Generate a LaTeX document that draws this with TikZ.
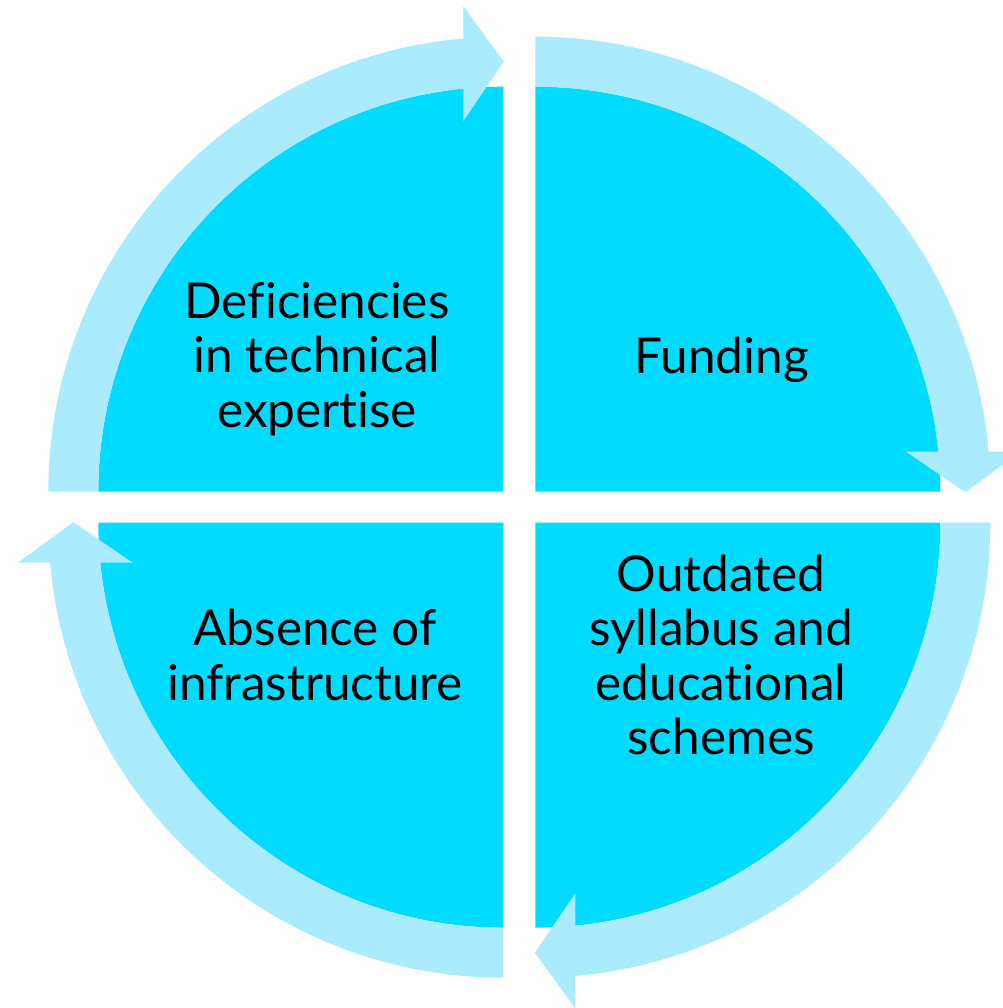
\documentclass[tikz,border=0pt]{standalone}
\usepackage{fontspec}
\setmainfont[Ligatures={NoCommon,NoDiscretionary,NoRare,NoContextual}]{Lato}
\definecolor{segfill}{RGB}{0,219,255}
\definecolor{ringfill}{RGB}{171,235,255}
\begin{document}
\begin{tikzpicture}[x=1pt,y=1pt,
  seg/.style={fill=segfill,draw=none},
  ring/.style={fill=ringfill,draw=none},
  lab/.style={align=center,font=\fontsize{49.5}{54.5}\selectfont,text=black,inner sep=0pt}]
\useasboundingbox (0,0) rectangle (1002,1008);
\foreach \cx/\cy/\r in {503.3/516.3/0, 535.3/516.3/-90, 535.3/485.3/-180, 503.3/485.3/-270} {
  \begin{scope}[shift={(\cx,\cy)}, rotate=\r]
    \fill[seg] (0,0) -- (-405,0) arc[start angle=180,end angle=90,radius=405] -- cycle;
  \end{scope}
}
\foreach \cx/\cy/\r in {503.3/516.3/0, 535.3/516.3/-90, 535.3/485.3/-180, 503.3/485.3/-270} {
  \begin{scope}[shift={(\cx,\cy)}, rotate=\r]
    \fill[ring] (-455,0) arc[start angle=180,end angle=95.04,radius=455]
      -- (-40,485.6) -- (0.5,430) -- (-40,370.6) -- (-40,403.02)
      arc[start angle=95.67,end angle=180,radius=405] -- cycle;
  \end{scope}
}
\node[lab] (tl) at (317,649) {Deficiencies\\in technical\\expertise};
\node[lab] (tr) at (721.5,648.5) {Funding};
\node[lab] (br) at (721,353) {Outdated\\syllabus and\\educational\\schemes};
\node[lab] (bl) at (315,353) {Absence of\\infrastructure};
\end{tikzpicture}
\end{document}
